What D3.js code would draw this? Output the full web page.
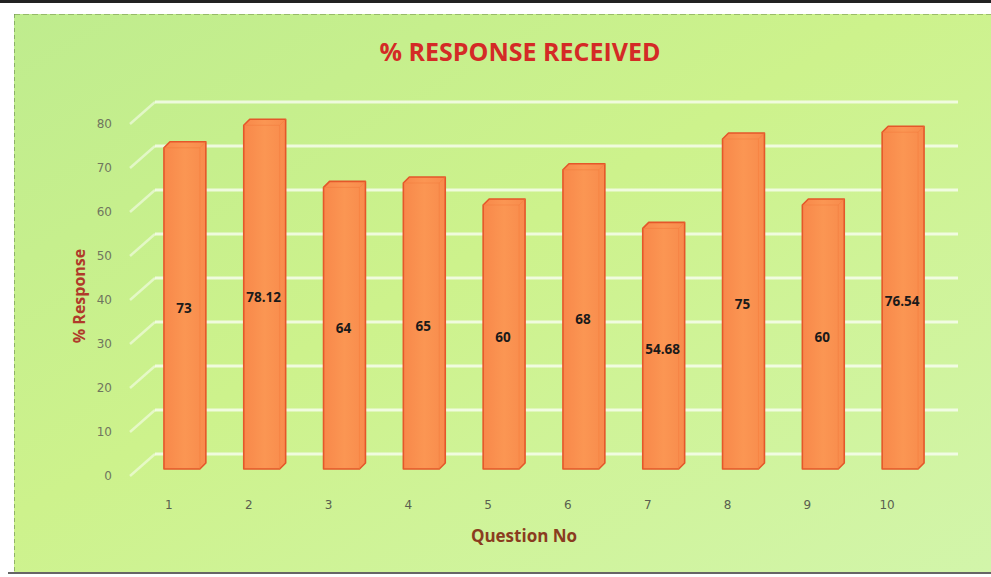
<!DOCTYPE html>
<html><head><meta charset="utf-8">
<script src="https://cdn.jsdelivr.net/npm/d3@7"></script>
<style>html,body{margin:0;padding:0;background:#fff;overflow:hidden}svg{display:block}</style>
</head><body>
<svg id="chart" width="991" height="577"></svg>
<script>
const questions = ["1","2","3","4","5","6","7","8","9","10"];
const responses = [73, 78.12, 64, 65, 60, 68, 54.68, 75, 60, 76.54];
const yTicks = [0, 10, 20, 30, 40, 50, 60, 70, 80];
const chartTitle = "% RESPONSE RECEIVED";
const xAxisTitle = "Question No";
const yAxisTitle = "% Response";

const svg = d3.select("#chart");
const defs = svg.append("defs");

const bg = defs.append("linearGradient").attr("id","bg").attr("x1","0").attr("y1","0").attr("x2","1").attr("y2","1");
bg.append("stop").attr("offset","0").attr("stop-color","#bfec8e");
bg.append("stop").attr("offset","0.45").attr("stop-color","#cdf28c");
bg.append("stop").attr("offset","1").attr("stop-color","#d2f5aa");

const barGrad = defs.append("linearGradient").attr("id","barg").attr("x1","0").attr("x2","1");
barGrad.append("stop").attr("offset","0").attr("stop-color","#f8884a");
barGrad.append("stop").attr("offset","0.5").attr("stop-color","#fb9653");
barGrad.append("stop").attr("offset","1").attr("stop-color","#f88b4c");

// page + chart area
svg.append("rect").attr("x",0).attr("y",0).attr("width",991).attr("height",577).attr("fill","#ffffff");
svg.append("line").attr("x1",0).attr("x2",991).attr("y1",1.5).attr("y2",1.5).attr("stroke","#222").attr("stroke-width",3);
svg.append("rect").attr("x",14).attr("y",14).attr("width",977).attr("height",558).attr("fill","url(#bg)");
svg.append("line").attr("x1",14).attr("x2",991).attr("y1",14.5).attr("y2",14.5).attr("stroke","#7a9a50").attr("stroke-width",1).attr("stroke-dasharray","6,3").attr("opacity",0.6);
svg.append("line").attr("x1",14.5).attr("x2",14.5).attr("y1",14).attr("y2",572).attr("stroke","#6a8a50").attr("stroke-width",1).attr("stroke-dasharray","4,3").attr("opacity",0.6);
svg.append("line").attr("x1",8).attr("x2",991).attr("y1",573).attr("y2",573).attr("stroke","#333").attr("stroke-width",1.5);

// scales (front plane)
const y = d3.scaleLinear().domain([0, 80]).range([476, 124]);
const x = d3.scaleBand().domain(questions).range([129, 927]).paddingInner(0.55).paddingOuter(0.275);
const wall = {dx: 25, dy: -22};   // back wall depth
const mid = {dx: 13, dy: -7};     // bars sit mid-depth
const bd = 6;                      // bar depth

// gridlines on back wall + side wall diagonals
const grid = svg.append("g");
const x0 = 130, x1 = 933;
yTicks.forEach(v => {
  grid.append("line")
    .attr("x1", x0 + wall.dx).attr("x2", x1 + wall.dx)
    .attr("y1", y(v) + wall.dy).attr("y2", y(v) + wall.dy)
    .attr("stroke","#ffffff").attr("stroke-opacity",0.7).attr("stroke-width",3);
  grid.append("line")
    .attr("x1", x0).attr("y1", y(v))
    .attr("x2", x0 + wall.dx).attr("y2", y(v) + wall.dy)
    .attr("stroke","#ffffff").attr("stroke-opacity",0.5).attr("stroke-width",2.5);
});

// bars
const bars = svg.append("g");
questions.forEach((q, i) => {
  const v = responses[i];
  const bx0 = x(q) + mid.dx, bx1 = bx0 + x.bandwidth();
  const yt = y(v) + mid.dy, yb = y(0) + mid.dy;
  const p = d3.path();
  p.moveTo(bx0, yb); p.lineTo(bx0, yt); p.lineTo(bx0 + bd, yt - bd);
  p.lineTo(bx1 + bd, yt - bd); p.lineTo(bx1 + bd, yb - bd); p.lineTo(bx1, yb); p.closePath();
  bars.append("path").attr("d", p.toString())
    .attr("fill","url(#barg)").attr("stroke","#e4572a").attr("stroke-width",1.6).attr("stroke-linejoin","round");
  bars.append("path")
    .attr("d", `M${bx0},${yt}L${bx1},${yt}L${bx1},${yb}M${bx1},${yt}L${bx1+bd},${yt-bd}`)
    .attr("fill","none").attr("stroke","#f27a3c").attr("stroke-width",0.8).attr("opacity",0.6);
  bars.append("text")
    .attr("x", (bx0 + bx1 + bd) / 2 - 1).attr("y", (yt + yb) / 2 + 5)
    .attr("text-anchor","middle")
    .attr("font-family","'Open Sans', sans-serif").attr("font-weight",700).attr("font-size",13.5)
    .attr("fill","#1a1a1a").text(String(v));
});

// y tick labels
svg.append("g").selectAll("text").data(yTicks).join("text")
  .attr("x", 112).attr("y", d => y(d)).attr("dy","0.35em")
  .attr("text-anchor","end")
  .attr("font-family","'DejaVu Sans', sans-serif").attr("font-size",12)
  .attr("fill","#70755f").text(d => d);

// x tick labels
svg.append("g").selectAll("text").data(questions).join("text")
  .attr("x", d => x(d) + x.bandwidth()/2).attr("y", 505).attr("dy","0.35em")
  .attr("text-anchor","middle")
  .attr("font-family","'DejaVu Sans', sans-serif").attr("font-size",12)
  .attr("fill","#5a5f50").text(d => d);

// titles
svg.append("text").attr("x", 520).attr("y", 52).attr("dy","0.35em").attr("text-anchor","middle")
  .attr("font-family","'Open Sans', sans-serif").attr("font-weight",700).attr("font-size",25)
  .attr("fill","#d42a26").text(chartTitle);

svg.append("text").attr("transform","translate(79,296) rotate(-90)").attr("dy","0.35em").attr("text-anchor","middle")
  .attr("font-family","'Open Sans', sans-serif").attr("font-weight",700).attr("font-size",16)
  .attr("fill","#b03a2a").text(yAxisTitle);

svg.append("text").attr("x", 524).attr("y", 536).attr("dy","0.35em").attr("text-anchor","middle")
  .attr("font-family","'Open Sans', sans-serif").attr("font-weight",700).attr("font-size",17)
  .attr("fill","#8a3c20").text(xAxisTitle);
</script>
</body></html>
